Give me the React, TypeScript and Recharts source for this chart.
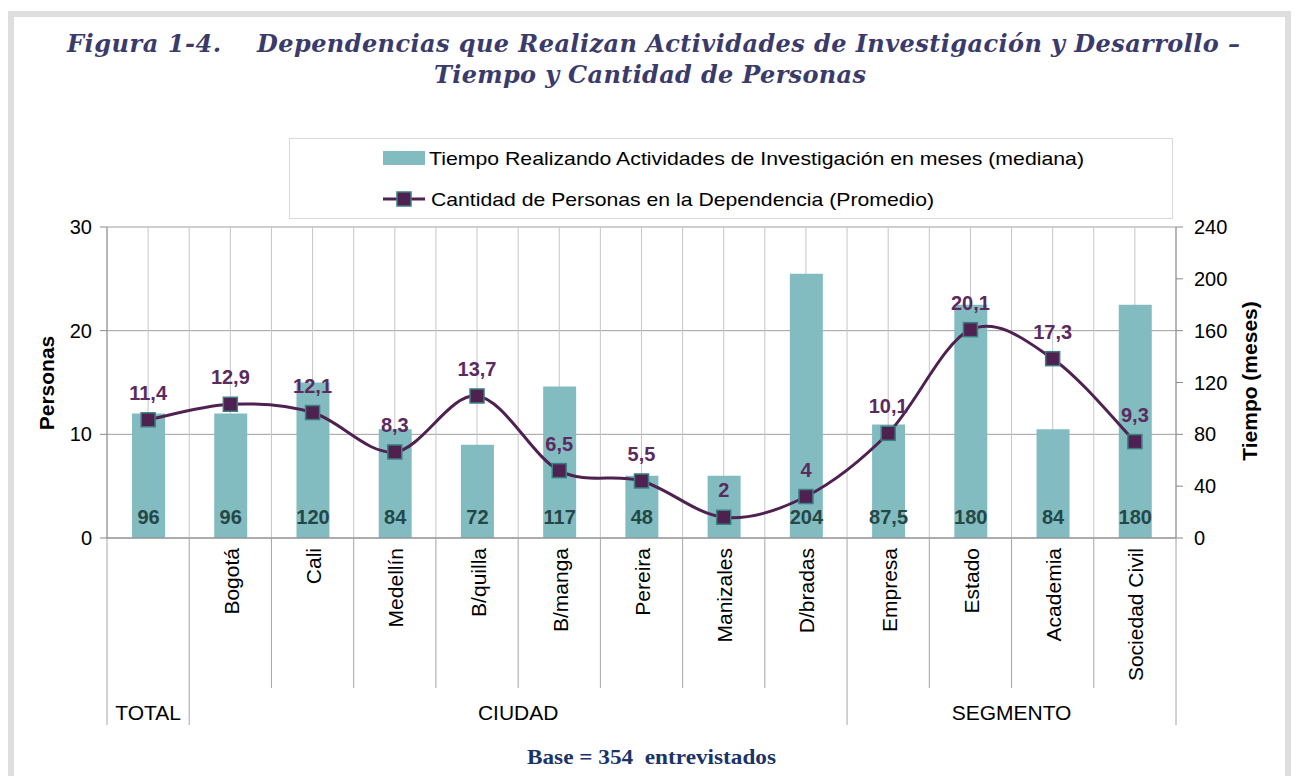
import React from "react";
import {
  Bar,
  CartesianGrid,
  ComposedChart,
  LabelList,
  Legend,
  Line,
  XAxis,
  YAxis,
} from "recharts";

const categories = [
  "TOTAL",
  "Bogotá",
  "Cali",
  "Medellín",
  "B/quilla",
  "B/manga",
  "Pereira",
  "Manizales",
  "D/bradas",
  "Empresa",
  "Estado",
  "Academia",
  "Sociedad Civil",
];
const tiempoMeses = [96, 96, 120, 84, 72, 117, 48, 48, 204, 87.5, 180, 84, 180];
const tiempoLabels = ["96", "96", "120", "84", "72", "117", "48", "", "204", "87,5", "180", "84", "180"];
const cantidadPersonas = [11.4, 12.9, 12.1, 8.3, 13.7, 6.5, 5.5, 2, 4, 10.1, 20.1, 17.3, 9.3];
const groupLabels = ["TOTAL", "CIUDAD", "SEGMENTO"];
const groupSizes = [1, 8, 4];
const personasTicks = [0, 10, 20, 30];
const tiempoTicks = [0, 40, 80, 120, 160, 200, 240];
const seriesNames = [
  "Tiempo Realizando Actividades de Investigación en meses (mediana)",
  "Cantidad de Personas en la Dependencia (Promedio)",
];

const data = categories.map((name, i) => ({
  name,
  tiempo: tiempoMeses[i],
  personas: cantidadPersonas[i],
}));

const groupStarts = groupSizes.map((_, g) =>
  groupSizes.slice(0, g).reduce((a, b) => a + b, 0)
);

const W = 1298;
const H = 776;
const MARGIN = { top: 227, right: 62, bottom: 88, left: 47 };
const Y_AXIS_W = 60;
const X_AXIS_H = 150;
const PLOT_W = W - MARGIN.left - MARGIN.right - 2 * Y_AXIS_W;
const BAND = PLOT_W / categories.length;

const BAR_COLOR = "#82bcc0";
const LINE_COLOR = "#4e2151";
const MARKER_STROKE = "#3c7f82";
const SANS = "'Liberation Sans', Arial, sans-serif";
const SERIF = "'Liberation Serif', 'Times New Roman', serif";
const TITLE_FONT = "'DejaVu Serif', 'Liberation Serif', serif";
const AXIS_GRAY = "#8a8a8a";

// Excel-like smoothed line (Catmull-Rom as cubic Bezier)
function excelSmooth(context: any) {
  let pts: number[][] = [];
  return {
    areaStart() {},
    areaEnd() {},
    lineStart() {
      pts = [];
    },
    point(x: number, y: number) {
      pts.push([+x, +y]);
    },
    lineEnd() {
      if (!pts.length) return;
      context.moveTo(pts[0][0], pts[0][1]);
      const t = 1 / 6;
      for (let i = 0; i < pts.length - 1; i++) {
        const p0 = pts[i - 1] || pts[i];
        const p1 = pts[i];
        const p2 = pts[i + 1];
        const p3 = pts[i + 2] || p2;
        context.bezierCurveTo(
          p1[0] + (p2[0] - p0[0]) * t,
          p1[1] + (p2[1] - p0[1]) * t,
          p2[0] - (p3[0] - p1[0]) * t,
          p2[1] - (p3[1] - p1[1]) * t,
          p2[0],
          p2[1]
        );
      }
    },
  };
}

function CategoryTick({ x, y, index }: any) {
  const g = groupStarts.indexOf(index);
  const left = x - BAND / 2;
  const name = categories[index];
  const showName = !(g >= 0 && groupLabels[g] === name);
  return (
    <g>
      <line x1={left} x2={left} y1={y} y2={y + (g >= 0 ? 187 : 150)} stroke="#a6a6a6" />
      {index === categories.length - 1 && (
        <line x1={x + BAND / 2} x2={x + BAND / 2} y1={y} y2={y + 187} stroke="#a6a6a6" />
      )}
      {showName && (
        <text
          transform={`translate(${x + 1},${y + 10}) rotate(-90)`}
          textAnchor="end"
          dominantBaseline="central"
          fontSize={21}
          fontFamily={SANS}
          fill="#000"
        >
          {name}
        </text>
      )}
      {g >= 0 && (
        <text
          x={left + (groupSizes[g] * BAND) / 2}
          y={y + 174}
          textAnchor="middle"
          dominantBaseline="central"
          fontSize={21}
          fontFamily={SANS}
          fill="#000"
        >
          {groupLabels[g]}
        </text>
      )}
    </g>
  );
}

const renderSquare = (props: any) => {
  const { cx, cy, index } = props;
  return (
    <rect
      key={`sq-${index}`}
      x={cx - 7}
      y={cy - 7}
      width={14}
      height={14}
      fill={LINE_COLOR}
      stroke={MARKER_STROKE}
      strokeWidth={1.5}
    />
  );
};

const renderPersonasLabel = (props: any) => {
  const x = props.x ?? props.viewBox?.x;
  const y = props.y ?? props.viewBox?.y;
  return (
    <text
      x={x}
      y={y - 27}
      textAnchor="middle"
      dominantBaseline="central"
      fontSize={20}
      fontWeight="bold"
      fontFamily={SANS}
      fill="#5b2a5e"
    >
      {String(props.value).replace(".", ",")}
    </text>
  );
};

const renderTiempoLabel = (props: any) => {
  const { x, y, width, height, index } = props;
  return (
    <text
      x={Number(x) + Number(width) / 2}
      y={Number(y) + Number(height) - 21}
      textAnchor="middle"
      dominantBaseline="central"
      fontSize={20}
      fontWeight="bold"
      fontFamily={SANS}
      fill="#244747"
    >
      {tiempoLabels[index]}
    </text>
  );
};

const renderLegend = () => (
  <svg width={884} height={81} style={{ display: "block" }}>
    <rect x={0.5} y={0.5} width={883} height={80} fill="#fff" stroke="#d9d9d9" />
    <rect x={94} y={13} width={42} height={14} fill={BAR_COLOR} />
    <text x={140} y={20} dominantBaseline="central" fontSize={19} fontFamily={SANS} fill="#000" textLength={655} lengthAdjust="spacingAndGlyphs">
      {seriesNames[0]}
    </text>
    <line x1={94} x2={136} y1={61} y2={61} stroke={LINE_COLOR} strokeWidth={3} />
    <rect x={108} y={54} width={14} height={14} fill={LINE_COLOR} stroke={MARKER_STROKE} strokeWidth={1.5} />
    <text x={142} y={61} dominantBaseline="central" fontSize={19} fontFamily={SANS} fill="#000" textLength={503} lengthAdjust="spacingAndGlyphs">
      {seriesNames[1]}
    </text>
  </svg>
);

export default function App() {
  return (
    <div style={{ position: "absolute", left: 0, top: 0, width: W, height: H, background: "#fff", overflow: "hidden" }}>
      <div
        style={{
          position: "absolute",
          left: 8,
          top: 11,
          width: 1283,
          height: 820,
          border: "6px solid #dedede",
          boxSizing: "border-box",
        }}
      />
      <div style={{ position: "absolute", left: 0, top: 0, fontFamily: SANS }}>
        <ComposedChart width={W} height={H} data={data} margin={MARGIN}>
          <CartesianGrid vertical={false} stroke="#9e9e9e" />
          <CartesianGrid
            horizontal={false}
            stroke="#c6c6c6"
            verticalCoordinatesGenerator={({ offset }: any) =>
              Array.from({ length: 2 * categories.length + 1 }, (_, i) =>
                offset.left + (i * offset.width) / (2 * categories.length)
              )
            }
          />
          <XAxis
            dataKey="name"
            type="category"
            interval={0}
            height={X_AXIS_H}
            tickSize={0}
            tickMargin={0}
            tickLine={false}
            axisLine={{ stroke: AXIS_GRAY }}
            tick={<CategoryTick />}
          />
          <YAxis
            domain={[0, 30]}
            ticks={personasTicks}
            width={Y_AXIS_W}
            tickSize={7}
            tickMargin={8}
            tickLine={{ stroke: AXIS_GRAY }}
            axisLine={{ stroke: AXIS_GRAY }}
            tick={{ fill: "#000", fontSize: 20, fontFamily: SANS }}
          />
          <YAxis
            yAxisId="right"
            orientation="right"
            domain={[0, 240]}
            ticks={tiempoTicks}
            width={Y_AXIS_W}
            tickSize={7}
            tickMargin={11}
            tickLine={{ stroke: AXIS_GRAY }}
            axisLine={{ stroke: AXIS_GRAY }}
            tick={{ fill: "#000", fontSize: 20, fontFamily: SANS }}
          />
          <Legend
            layout="vertical"
            align="center"
            verticalAlign="middle"
            content={renderLegend}
            wrapperStyle={{ position: "absolute", left: 289, top: 138, width: 884, height: 81 }}
          />
          <Bar
            dataKey="tiempo"
            name={seriesNames[0]}
            yAxisId="right"
            fill={BAR_COLOR}
            barSize={33}
            isAnimationActive={false}
          >
            <LabelList dataKey="tiempo" content={renderTiempoLabel} />
          </Bar>
          <Line
            dataKey="personas"
            name={seriesNames[1]}
            type={excelSmooth as any}
            stroke={LINE_COLOR}
            strokeWidth={3}
            dot={renderSquare}
            activeDot={false}
            isAnimationActive={false}
          >
            <LabelList dataKey="personas" content={renderPersonasLabel} />
          </Line>
        </ComposedChart>
      </div>
      <svg
        width={W}
        height={H}
        style={{ position: "absolute", left: 0, top: 0, pointerEvents: "none" }}
      >
        <g fontFamily={TITLE_FONT} fontWeight="bold" fontStyle="italic" fontSize={24} fill="#3b3b6b">
          <text x={67} y={52} textLength={154} lengthAdjust="spacing">
            Figura 1-4.
          </text>
          <text x={257} y={52} textLength={983} lengthAdjust="spacing">
            Dependencias que Realizan Actividades de Investigación y Desarrollo –
          </text>
          <text x={434} y={83} textLength={432} lengthAdjust="spacing">
            Tiempo y Cantidad de Personas
          </text>
        </g>
        <text
          transform="translate(46,383) rotate(-90)"
          textAnchor="middle"
          dominantBaseline="central"
          fontFamily={SANS}
          fontWeight="bold"
          fontSize={21}
          fill="#000"
        >
          Personas
        </text>
        <text
          transform="translate(1249,381) rotate(-90)"
          textAnchor="middle"
          dominantBaseline="central"
          fontFamily={SANS}
          fontWeight="bold"
          fontSize={21}
          fill="#000"
        >
          Tiempo (meses)
        </text>
        <text
          x={527}
          y={764}
          textLength={249}
          lengthAdjust="spacingAndGlyphs"
          fontFamily={SERIF}
          fontWeight="bold"
          fontSize={22}
          fill="#1b3468"
          style={{ whiteSpace: "pre" }}
        >
          Base = 354  entrevistados
        </text>
      </svg>
    </div>
  );
}
